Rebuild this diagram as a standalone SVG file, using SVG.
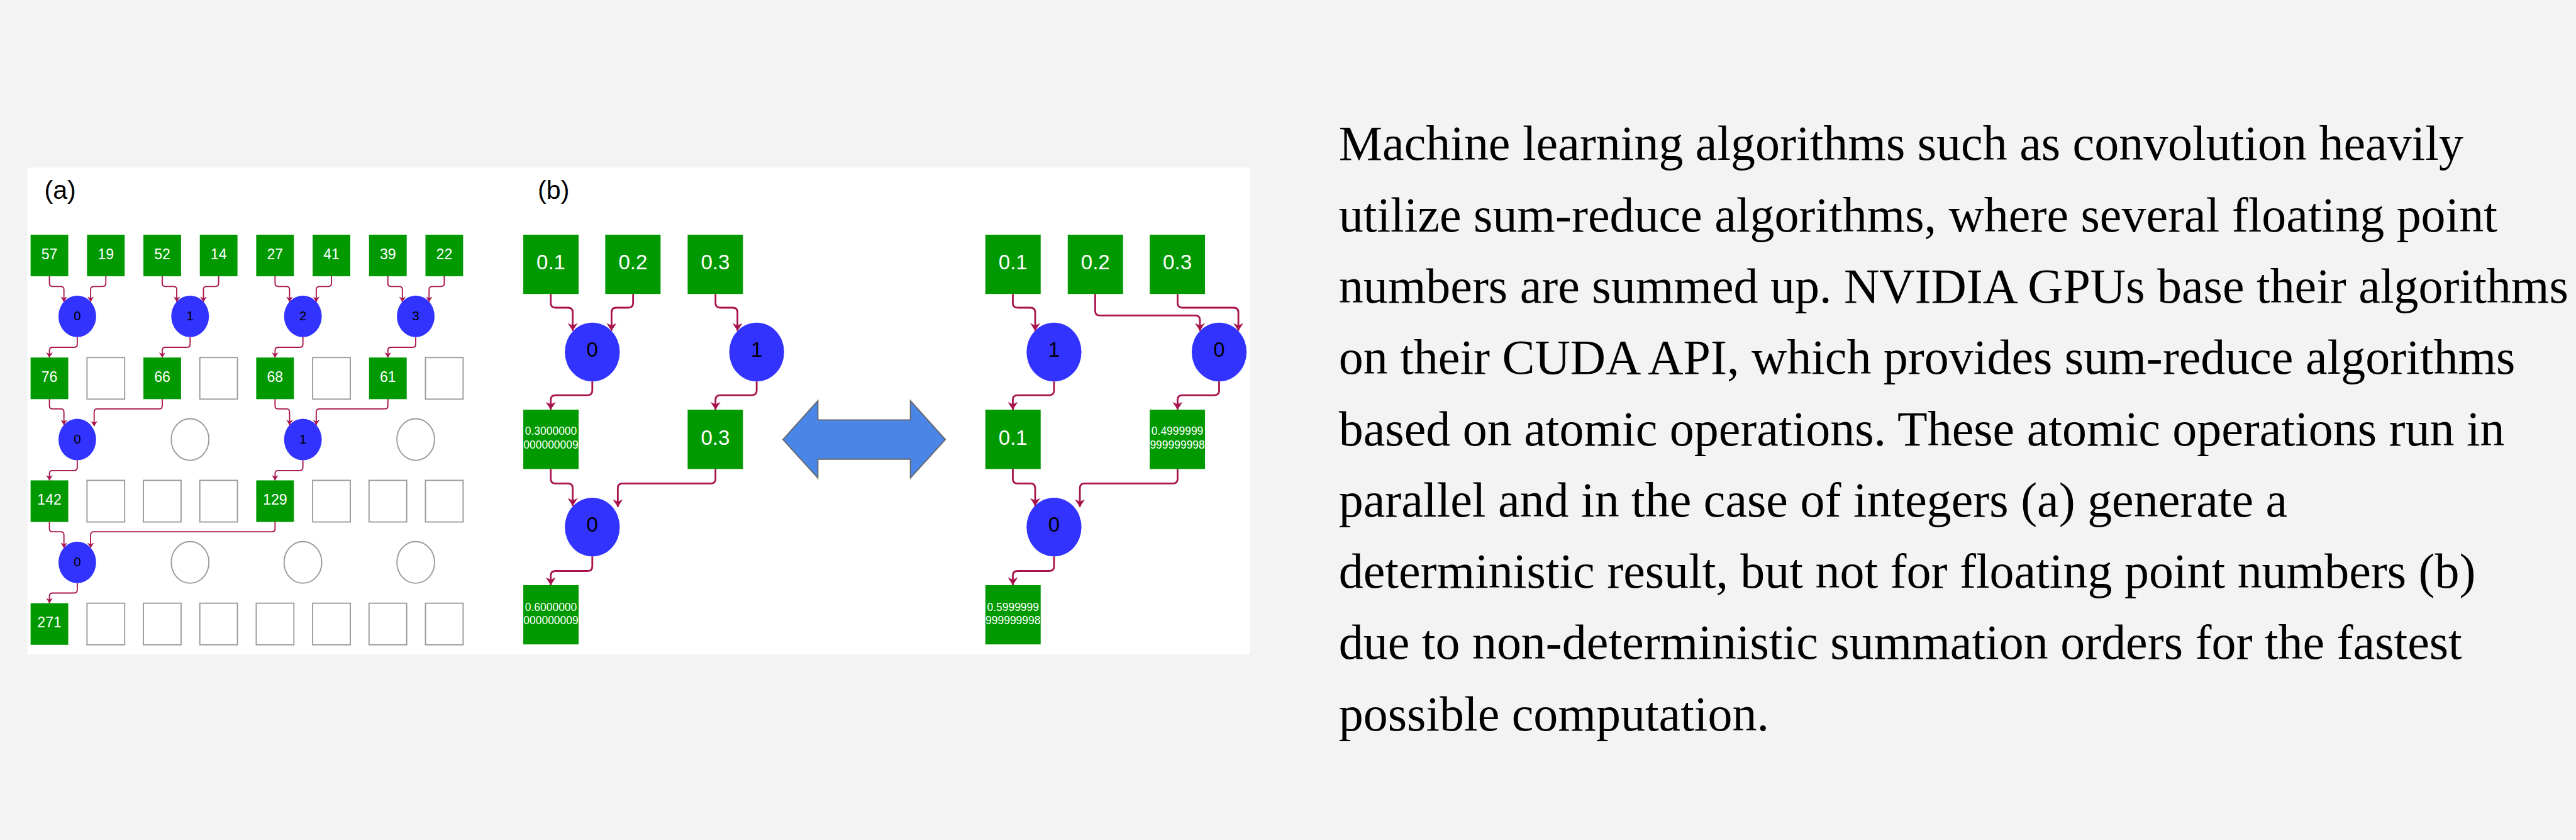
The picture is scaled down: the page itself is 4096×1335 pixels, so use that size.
<svg xmlns="http://www.w3.org/2000/svg" width="4096" height="1335" viewBox="0 0 4096 1335">
<defs>
<style>
.g{fill:#009900}
.e{fill:#ffffff;stroke:#9a9a9a;stroke-width:3}
.c{fill:#3333ff}
.ce{fill:#ffffff;stroke:#9a9a9a;stroke-width:3}
.t{font-family:"Liberation Sans",Arial,sans-serif;fill:#ffffff;text-anchor:middle}
.ta{font-size:37px}
.tb{font-size:53px}
.tl{font-size:28px}
.ct{font-family:"Liberation Sans",Arial,sans-serif;fill:#000000;text-anchor:middle}
.lbl{font-family:"Liberation Sans",Arial,sans-serif;fill:#000000;font-size:66px}
.lnk{fill:none;stroke:#a8134d;marker-end:url(#ah)}
.la{stroke-width:3}
.lb{stroke-width:4.5}
.body{font-family:"Liberation Serif","Times New Roman",serif;font-size:125px;fill:#000000}
</style>
<marker id="ah" viewBox="0 0 10 13" refX="10" refY="6.5" markerWidth="4.4" markerHeight="5.7" orient="auto" markerUnits="strokeWidth">
<path d="M0,0 L10,6.5 L0,13 L3,6.5 z" fill="#a8134d"/>
</marker>
</defs>
<rect x="0" y="0" width="4096" height="1335" fill="#f3f3f3"/>
<g transform="scale(0.62372)">
<rect x="70" y="427" width="3117" height="1241" fill="#ffffff"/>
<text class="lbl" x="113" y="506">(a)</text>
<text class="lbl" x="1371" y="506">(b)</text>

<!-- panel (a) row 1 -->
<g id="a-r1-0"><rect class="g" x="78" y="598" width="96" height="106"/><text class="t ta" x="126" y="660">57</text></g>
<g id="a-r1-1"><rect class="g" x="221.8" y="598" width="96" height="106"/><text class="t ta" x="269.8" y="660">19</text></g>
<g id="a-r1-2"><rect class="g" x="365.6" y="598" width="96" height="106"/><text class="t ta" x="413.6" y="660">52</text></g>
<g id="a-r1-3"><rect class="g" x="509.4" y="598" width="96" height="106"/><text class="t ta" x="557.4" y="660">14</text></g>
<g id="a-r1-4"><rect class="g" x="653.2" y="598" width="96" height="106"/><text class="t ta" x="701.2" y="660">27</text></g>
<g id="a-r1-5"><rect class="g" x="797" y="598" width="96" height="106"/><text class="t ta" x="845" y="660">41</text></g>
<g id="a-r1-6"><rect class="g" x="940.8" y="598" width="96" height="106"/><text class="t ta" x="988.8" y="660">39</text></g>
<g id="a-r1-7"><rect class="g" x="1084.6" y="598" width="96" height="106"/><text class="t ta" x="1132.6" y="660">22</text></g>
<!-- circles row 1 -->
<g id="a-c1-0"><ellipse class="c" cx="197" cy="806" rx="48" ry="53"/><text class="ct" x="197" y="816" font-size="33">0</text></g>
<g id="a-c1-1"><ellipse class="c" cx="484.6" cy="806" rx="48" ry="53"/><text class="ct" x="484.6" y="816" font-size="33">1</text></g>
<g id="a-c1-2"><ellipse class="c" cx="772.2" cy="806" rx="48" ry="53"/><text class="ct" x="772.2" y="816" font-size="33">2</text></g>
<g id="a-c1-3"><ellipse class="c" cx="1059.8" cy="806" rx="48" ry="53"/><text class="ct" x="1059.8" y="816" font-size="33">3</text></g>
<!-- row 2 -->
<g id="a-r2-0"><rect class="g" x="78" y="911" width="96" height="106"/><text class="t ta" x="126" y="973">76</text></g>
<g id="a-r2-1"><rect class="e" x="221.8" y="911" width="96" height="106"/></g>
<g id="a-r2-2"><rect class="g" x="365.6" y="911" width="96" height="106"/><text class="t ta" x="413.6" y="973">66</text></g>
<g id="a-r2-3"><rect class="e" x="509.4" y="911" width="96" height="106"/></g>
<g id="a-r2-4"><rect class="g" x="653.2" y="911" width="96" height="106"/><text class="t ta" x="701.2" y="973">68</text></g>
<g id="a-r2-5"><rect class="e" x="797" y="911" width="96" height="106"/></g>
<g id="a-r2-6"><rect class="g" x="940.8" y="911" width="96" height="106"/><text class="t ta" x="988.8" y="973">61</text></g>
<g id="a-r2-7"><rect class="e" x="1084.6" y="911" width="96" height="106"/></g>
<!-- circles row 2 -->
<g id="a-c2-0"><ellipse class="c" cx="197" cy="1120" rx="48" ry="53"/><text class="ct" x="197" y="1130" font-size="33">0</text></g>
<g id="a-c2-1"><ellipse class="ce" cx="484.6" cy="1120" rx="48" ry="53"/></g>
<g id="a-c2-2"><ellipse class="c" cx="772.2" cy="1120" rx="48" ry="53"/><text class="ct" x="772.2" y="1130" font-size="33">1</text></g>
<g id="a-c2-3"><ellipse class="ce" cx="1059.8" cy="1120" rx="48" ry="53"/></g>
<!-- row 3 -->
<g id="a-r3-0"><rect class="g" x="78" y="1224" width="96" height="106"/><text class="t ta" x="126" y="1286">142</text></g>
<g id="a-r3-1"><rect class="e" x="221.8" y="1224" width="96" height="106"/></g>
<g id="a-r3-2"><rect class="e" x="365.6" y="1224" width="96" height="106"/></g>
<g id="a-r3-3"><rect class="e" x="509.4" y="1224" width="96" height="106"/></g>
<g id="a-r3-4"><rect class="g" x="653.2" y="1224" width="96" height="106"/><text class="t ta" x="701.2" y="1286">129</text></g>
<g id="a-r3-5"><rect class="e" x="797" y="1224" width="96" height="106"/></g>
<g id="a-r3-6"><rect class="e" x="940.8" y="1224" width="96" height="106"/></g>
<g id="a-r3-7"><rect class="e" x="1084.6" y="1224" width="96" height="106"/></g>
<!-- circles row 3 -->
<g id="a-c3-0"><ellipse class="c" cx="197" cy="1433" rx="48" ry="53"/><text class="ct" x="197" y="1443" font-size="33">0</text></g>
<g id="a-c3-1"><ellipse class="ce" cx="484.6" cy="1433" rx="48" ry="53"/></g>
<g id="a-c3-2"><ellipse class="ce" cx="772.2" cy="1433" rx="48" ry="53"/></g>
<g id="a-c3-3"><ellipse class="ce" cx="1059.8" cy="1433" rx="48" ry="53"/></g>
<!-- row 4 -->
<g id="a-r4-0"><rect class="g" x="78" y="1537" width="96" height="106"/><text class="t ta" x="126" y="1599">271</text></g>
<g id="a-r4-1"><rect class="e" x="221.8" y="1537" width="96" height="106"/></g>
<g id="a-r4-2"><rect class="e" x="365.6" y="1537" width="96" height="106"/></g>
<g id="a-r4-3"><rect class="e" x="509.4" y="1537" width="96" height="106"/></g>
<g id="a-r4-4"><rect class="e" x="653.2" y="1537" width="96" height="106"/></g>
<g id="a-r4-5"><rect class="e" x="797" y="1537" width="96" height="106"/></g>
<g id="a-r4-6"><rect class="e" x="940.8" y="1537" width="96" height="106"/></g>
<g id="a-r4-7"><rect class="e" x="1084.6" y="1537" width="96" height="106"/></g>

<!-- panel (b) left -->
<g id="bl-r1-0"><rect class="g" x="1334" y="598" width="141" height="151"/><text class="t tb" x="1404.5" y="686">0.1</text></g>
<g id="bl-r1-1"><rect class="g" x="1543" y="598" width="141" height="151"/><text class="t tb" x="1613.5" y="686">0.2</text></g>
<g id="bl-r1-2"><rect class="g" x="1753" y="598" width="141" height="151"/><text class="t tb" x="1823.5" y="686">0.3</text></g>
<g id="bl-c1-0"><ellipse class="c" cx="1510" cy="897" rx="70" ry="75"/><text class="ct" x="1510" y="909" font-size="53">0</text></g>
<g id="bl-c1-1"><ellipse class="c" cx="1929" cy="897" rx="70" ry="75"/><text class="ct" x="1929" y="909" font-size="53">1</text></g>
<g id="bl-r2-0"><rect class="g" x="1334" y="1044" width="141" height="151"/><text class="t tl" x="1404.5" y="1108">0.3000000</text><text class="t tl" x="1404.5" y="1143">000000009</text></g>
<g id="bl-r2-1"><rect class="g" x="1753" y="1044" width="141" height="151"/><text class="t tb" x="1823.5" y="1133">0.3</text></g>
<g id="bl-c2-0"><ellipse class="c" cx="1510" cy="1343" rx="70" ry="75"/><text class="ct" x="1510" y="1355" font-size="53">0</text></g>
<g id="bl-r3-0"><rect class="g" x="1334" y="1491" width="141" height="151"/><text class="t tl" x="1404.5" y="1556">0.6000000</text><text class="t tl" x="1404.5" y="1591">000000009</text></g>

<!-- double arrow -->
<g id="swap"><polygon points="1996,1120 2085,1021 2085,1070 2321,1070 2321,1021 2410,1120 2321,1218 2321,1170 2085,1170 2085,1218" fill="#4a86e8" stroke="#666666" stroke-width="3"/></g>

<!-- panel (b) right -->
<g id="br-r1-0"><rect class="g" x="2512" y="598" width="141" height="151"/><text class="t tb" x="2582.5" y="686">0.1</text></g>
<g id="br-r1-1"><rect class="g" x="2722" y="598" width="141" height="151"/><text class="t tb" x="2792.5" y="686">0.2</text></g>
<g id="br-r1-2"><rect class="g" x="2931" y="598" width="141" height="151"/><text class="t tb" x="3001.5" y="686">0.3</text></g>
<g id="br-c1-0"><ellipse class="c" cx="2687" cy="897" rx="70" ry="75"/><text class="ct" x="2687" y="909" font-size="53">1</text></g>
<g id="br-c1-1"><ellipse class="c" cx="3108" cy="897" rx="70" ry="75"/><text class="ct" x="3108" y="909" font-size="53">0</text></g>
<g id="br-r2-0"><rect class="g" x="2512" y="1044" width="141" height="151"/><text class="t tb" x="2582.5" y="1133">0.1</text></g>
<g id="br-r2-1"><rect class="g" x="2931" y="1044" width="141" height="151"/><text class="t tl" x="3001.5" y="1108">0.4999999</text><text class="t tl" x="3001.5" y="1143">999999998</text></g>
<g id="br-c2-0"><ellipse class="c" cx="2687" cy="1343" rx="70" ry="75"/><text class="ct" x="2687" y="1355" font-size="53">0</text></g>
<g id="br-r3-0"><rect class="g" x="2512" y="1491" width="141" height="151"/><text class="t tl" x="2582.5" y="1556">0.5999999</text><text class="t tl" x="2582.5" y="1591">999999998</text></g>

<!-- connectors -->
<g id="connectors">
<path class="lnk la" d="M126,704 V722 Q126,730 134,730 H155 Q163,730 163,738 V769"/>
<path class="lnk la" d="M269.8,704 V722 Q269.8,730 261.8,730 H239 Q231,730 231,738 V769"/>
<path class="lnk la" d="M197,859 V877 Q197,885 189,885 H134 Q126,885 126,893 V911"/>
<path class="lnk la" d="M413.6,704 V722 Q413.6,730 421.6,730 H442.6 Q450.6,730 450.6,738 V769"/>
<path class="lnk la" d="M557.4,704 V722 Q557.4,730 549.4,730 H526.6 Q518.6,730 518.6,738 V769"/>
<path class="lnk la" d="M484.6,859 V877 Q484.6,885 476.6,885 H421.6 Q413.6,885 413.6,893 V911"/>
<path class="lnk la" d="M701.2,704 V722 Q701.2,730 709.2,730 H730.2 Q738.2,730 738.2,738 V769"/>
<path class="lnk la" d="M845,704 V722 Q845,730 837,730 H814.2 Q806.2,730 806.2,738 V769"/>
<path class="lnk la" d="M772.2,859 V877 Q772.2,885 764.2,885 H709.2 Q701.2,885 701.2,893 V911"/>
<path class="lnk la" d="M988.8,704 V722 Q988.8,730 996.8,730 H1017.8 Q1025.8,730 1025.8,738 V769"/>
<path class="lnk la" d="M1132.6,704 V722 Q1132.6,730 1124.6,730 H1101.8 Q1093.8,730 1093.8,738 V769"/>
<path class="lnk la" d="M1059.8,859 V877 Q1059.8,885 1051.8,885 H996.8 Q988.8,885 988.8,893 V911"/>
<path class="lnk la" d="M126,1017 V1034 Q126,1042 134,1042 H155 Q163,1042 163,1050 V1083"/>
<path class="lnk la" d="M413.6,1017 V1034 Q413.6,1042 405.6,1042 H248 Q240,1042 240,1050 V1086"/>
<path class="lnk la" d="M701.2,1017 V1034 Q701.2,1042 709.2,1042 H730.2 Q738.2,1042 738.2,1050 V1083"/>
<path class="lnk la" d="M988.8,1017 V1034 Q988.8,1042 980.8,1042 H814.2 Q806.2,1042 806.2,1050 V1083"/>
<path class="lnk la" d="M197,1173 V1191 Q197,1199 189,1199 H134 Q126,1199 126,1207 V1224"/>
<path class="lnk la" d="M772.2,1173 V1191 Q772.2,1199 764.2,1199 H709.2 Q701.2,1199 701.2,1207 V1224"/>
<path class="lnk la" d="M126,1330 V1347 Q126,1355 134,1355 H155 Q163,1355 163,1363 V1396"/>
<path class="lnk la" d="M701.2,1330 V1347 Q701.2,1355 693.2,1355 H239 Q231,1355 231,1363 V1396"/>
<path class="lnk la" d="M197,1486 V1503 Q197,1511 189,1511 H134 Q126,1511 126,1519 V1537"/>

<path class="lnk lb" d="M1404,749 V772 Q1404,784 1416,784 H1448 Q1460,784 1460,796 V843"/>
<path class="lnk lb" d="M1614,749 V772 Q1614,784 1602,784 H1571 Q1559,784 1559,796 V843"/>
<path class="lnk lb" d="M1824,749 V772 Q1824,784 1836,784 H1868 Q1880,784 1880,796 V843"/>
<path class="lnk lb" d="M1510,972 V995 Q1510,1007 1498,1007 H1416 Q1404,1007 1404,1019 V1044"/>
<path class="lnk lb" d="M1929,972 V995 Q1929,1007 1917,1007 H1836 Q1824,1007 1824,1019 V1044"/>
<path class="lnk lb" d="M1404,1195 V1220 Q1404,1232 1416,1232 H1448 Q1460,1232 1460,1244 V1289"/>
<path class="lnk lb" d="M1824,1195 V1220 Q1824,1232 1812,1232 H1587 Q1575,1232 1575,1244 V1292"/>
<path class="lnk lb" d="M1510,1418 V1443 Q1510,1455 1498,1455 H1416 Q1404,1455 1404,1467 V1491"/>

<path class="lnk lb" d="M2582,749 V772 Q2582,784 2594,784 H2627 Q2639,784 2639,796 V843"/>
<path class="lnk lb" d="M2792,749 V792 Q2792,804 2804,804 H3047 Q3059,804 3059,816 V843"/>
<path class="lnk lb" d="M3002,749 V772 Q3002,784 3014,784 H3145 Q3157,784 3157,796 V843"/>
<path class="lnk lb" d="M2687,972 V995 Q2687,1007 2675,1007 H2594 Q2582,1007 2582,1019 V1044"/>
<path class="lnk lb" d="M3108,972 V995 Q3108,1007 3096,1007 H3014 Q3002,1007 3002,1019 V1044"/>
<path class="lnk lb" d="M2582,1195 V1220 Q2582,1232 2594,1232 H2627 Q2639,1232 2639,1244 V1289"/>
<path class="lnk lb" d="M3002,1195 V1220 Q3002,1232 2990,1232 H2765 Q2753,1232 2753,1244 V1292"/>
<path class="lnk lb" d="M2687,1418 V1443 Q2687,1455 2675,1455 H2594 Q2582,1455 2582,1467 V1491"/>
</g>

<!-- description text -->
<g id="description">
<text class="body" x="3413" y="408">Machine learning algorithms such as convolution heavily</text>
<text class="body" x="3413" y="589.6">utilize sum-reduce algorithms, where several floating point</text>
<text class="body" x="3413" y="771.2">numbers are summed up. NVIDIA GPUs base their algorithms</text>
<text class="body" x="3413" y="952.8">on their CUDA API, which provides sum-reduce algorithms</text>
<text class="body" x="3413" y="1134.4">based on atomic operations. These atomic operations run in</text>
<text class="body" x="3413" y="1316">parallel and in the case of integers (a) generate a</text>
<text class="body" x="3413" y="1497.6">deterministic result, but not for floating point numbers (b)</text>
<text class="body" x="3413" y="1679.2">due to non-deterministic summation orders for the fastest</text>
<text class="body" x="3413" y="1860.8">possible computation.</text>
</g>
</g>
</svg>
